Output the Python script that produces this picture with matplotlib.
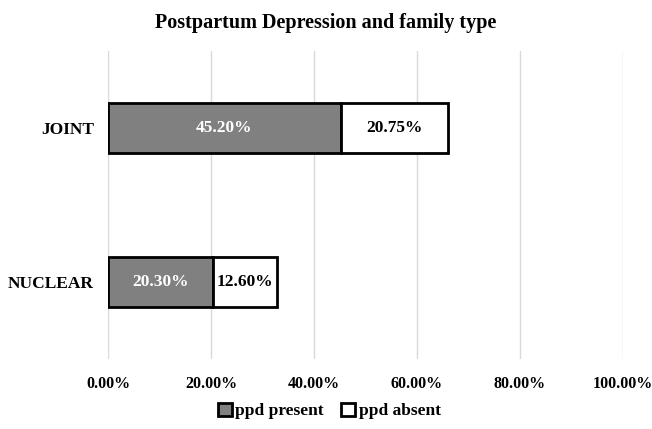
import matplotlib
matplotlib.use("Agg")
import matplotlib.pyplot as plt
from matplotlib.ticker import FuncFormatter

plt.rcParams['font.family'] = ['Liberation Serif', 'DejaVu Serif']
plt.rcParams['font.weight'] = 'bold'

categories = ["NUCLEAR", "JOINT"]
ppd_present = [20.30, 45.20]
ppd_absent = [12.60, 20.75]
series_names = ["ppd present", "ppd absent"]
x_ticks = [0, 20, 40, 60, 80, 100]

fig = plt.figure(figsize=(6.52, 4.29), dpi=100)
ax = fig.add_axes([0.1656, 0.1632, 0.7899, 0.7178])

y = list(range(len(categories)))
h = 0.32
b1 = ax.barh(y, ppd_present, height=h, color="#808080", edgecolor="black",
             linewidth=2, label=series_names[0], zorder=3)
b2 = ax.barh(y, ppd_absent, left=ppd_present, height=h, color="white",
             edgecolor="black", linewidth=2, label=series_names[1], zorder=3)

for i in y:
    ax.text(ppd_present[i] / 2, i, f"{ppd_present[i]:.2f}%", ha="center",
            va="center", color="white", fontsize=12.5, fontweight="bold", zorder=4)
    ax.text(ppd_present[i] + ppd_absent[i] / 2, i, f"{ppd_absent[i]:.2f}%",
            ha="center", va="center", color="black", fontsize=12.5,
            fontweight="bold", zorder=4)

ax.set_xlim(0, 100)
ax.set_ylim(-0.5, 1.5)
ax.set_xticks(x_ticks)
ax.xaxis.set_major_formatter(FuncFormatter(lambda v, p: f"{v:.2f}%"))
ax.set_yticks(y)
ax.set_yticklabels(categories)
ax.tick_params(axis="x", length=0, labelsize=11.5, pad=12)
ax.tick_params(axis="y", length=0, labelsize=12.5, pad=10)
for lab in ax.get_xticklabels() + ax.get_yticklabels():
    lab.set_fontweight("bold")
ax.grid(axis="x", color="#d9d9d9", linewidth=1, zorder=0)
for s in ax.spines.values():
    s.set_visible(False)

fig.suptitle("Postpartum Depression and family type", fontsize=14.5,
             fontweight="bold", y=0.97)
fig.legend(handles=[b1, b2], labels=series_names, loc="center",
           bbox_to_anchor=(0.505, 0.042), ncol=2, frameon=False,
           fontsize=12.5, handlelength=0.8, handleheight=0.8,
           handletextpad=0.2, columnspacing=1.0)

fig.savefig("out.png", dpi=100)
